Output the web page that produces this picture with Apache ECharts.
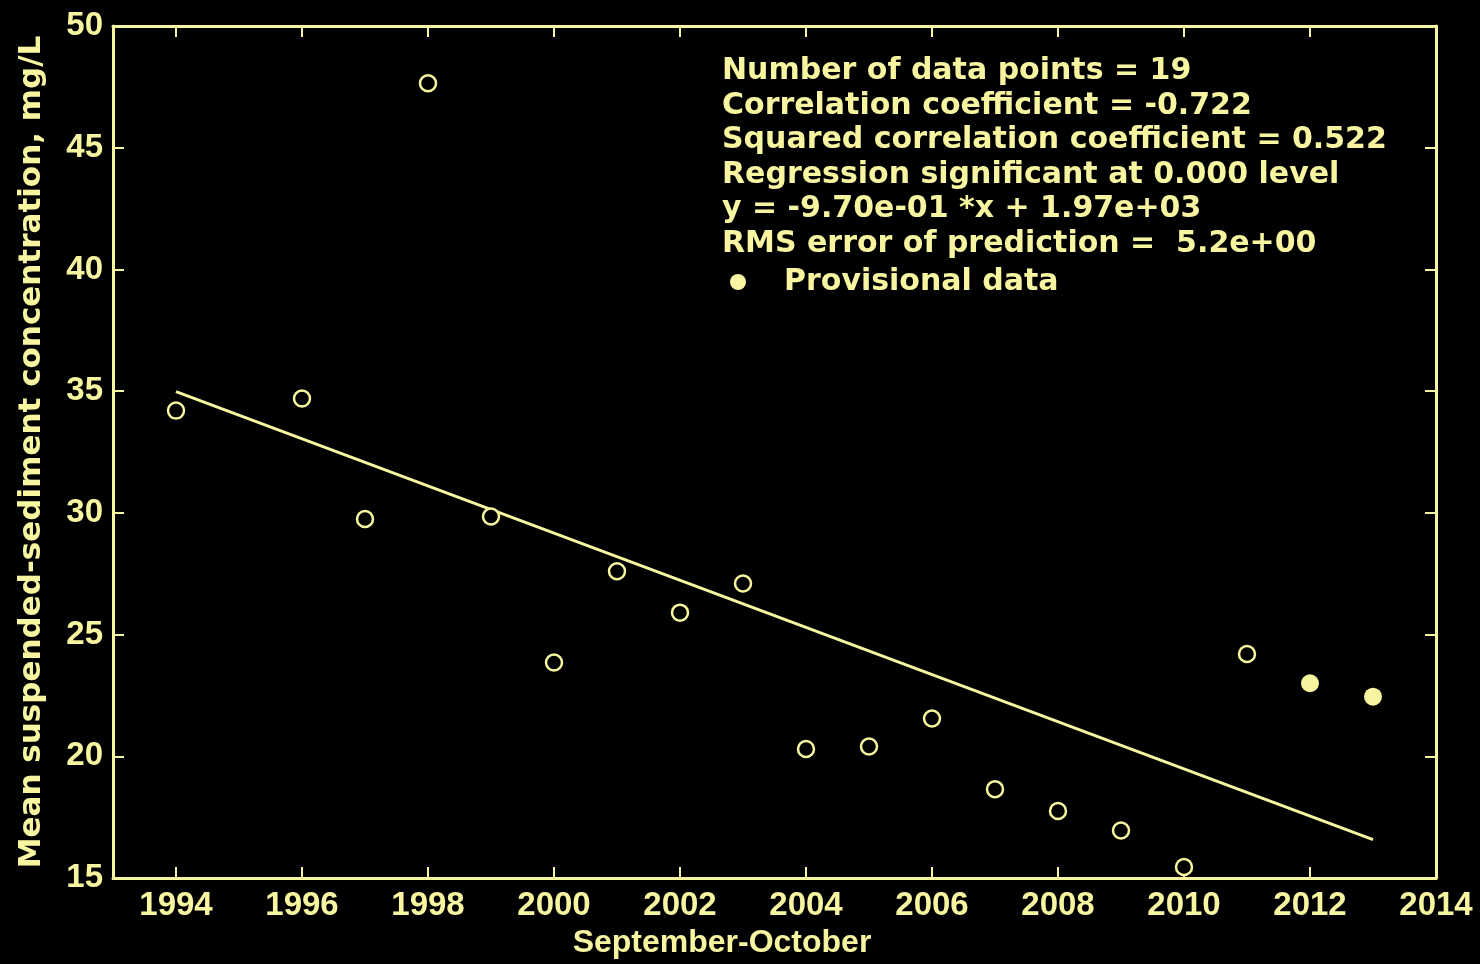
<!DOCTYPE html>
<html><head><meta charset="utf-8">
<script src="https://cdn.jsdelivr.net/npm/echarts@6/dist/echarts.min.js"></script>
<style>html,body{margin:0;padding:0;background:#000;}#c{width:1480px;height:964px;}</style>
</head><body><div id="c"></div>
<script>
// ---- data ----
const years = [1994,1996,1997,1998,1999,2000,2001,2002,2003,2004,2005,2006,2007,2008,2009,2010,2011];
const values = [34.2,34.7,29.75,47.65,29.85,23.85,27.6,25.9,27.1,20.3,20.4,21.55,18.65,17.75,16.95,15.45,24.2];
const provYears = [2012,2013];
const provValues = [23.0,22.45];
const regYears = [1994,2013];
const regValues = [34.98,16.58];
const xTicks = [1994,1996,1998,2000,2002,2004,2006,2008,2010,2012,2014];
const yTicks = [15,20,25,30,35,40,45,50];
const statLines = [
  'Number of data points = 19',
  'Correlation coefficient = -0.722',
  'Squared correlation coefficient = 0.522',
  'Regression significant at 0.000 level',
  'y = -9.70e-01 *x + 1.97e+03',
  'RMS error of prediction =  5.2e+00'
];
const legendLabel = 'Provisional data';
const xTitle = 'September-October';
const yTitle = 'Mean suspended-sediment concentration, mg/L';

// ---- style ----
const C = '#f8f5a0';
const tickFont = {color: C, fontFamily: 'Liberation Sans', fontWeight: 'bold', fontSize: 33};
const axisCommon = {
  axisLine: {show: true, lineStyle: {color: C, width: 3}},
  splitLine: {show: false}
};

const chart = echarts.init(document.getElementById('c'), null, {renderer: 'canvas'});
chart.setOption({
  backgroundColor: '#000',
  animation: false,
  grid: {left: 113, right: 44, top: 26, bottom: 86, containLabel: false, outerBoundsMode: 'none'},
  xAxis: [
    Object.assign({}, axisCommon, {
      type: 'value', min: 1993, max: 2014, position: 'bottom',
      axisTick: {show: true, inside: true, length: 11, customValues: xTicks, lineStyle: {color: C, width: 2}},
      axisLabel: Object.assign({show: true, margin: 11, customValues: xTicks, formatter: v => String(v)}, tickFont),
      name: xTitle, nameLocation: 'middle', nameGap: 29,
      nameTextStyle: {color: C, fontFamily: 'Liberation Sans', fontWeight: 'bold', fontSize: 32, padding: [0, 105, 0, 0]}
    }),
    Object.assign({}, axisCommon, {
      type: 'value', min: 1993, max: 2014, position: 'top',
      axisTick: {show: true, inside: true, length: 11, customValues: xTicks, lineStyle: {color: C, width: 2}},
      axisLabel: {show: false}
    })
  ],
  yAxis: [
    Object.assign({}, axisCommon, {
      type: 'value', min: 15, max: 50, interval: 5, position: 'left',
      axisTick: {show: true, inside: true, length: 11, lineStyle: {color: C, width: 2}},
      axisLabel: Object.assign({show: true, margin: 10, customValues: yTicks, formatter: v => String(v)}, tickFont),
      name: yTitle, nameLocation: 'middle', nameGap: 66, nameRotate: 90,
      nameTextStyle: {color: C, fontFamily: 'DejaVu Sans', fontWeight: 'bold', fontSize: 31}
    }),
    Object.assign({}, axisCommon, {
      type: 'value', min: 15, max: 50, interval: 5, position: 'right',
      axisTick: {show: true, inside: true, length: 11, lineStyle: {color: C, width: 2}},
      axisLabel: {show: false}
    })
  ],
  legend: {
    show: true, data: [legendLabel], left: 725, top: 262, orient: 'vertical',
    icon: 'circle', itemWidth: 16, itemHeight: 16,
    itemStyle: {opacity: 1},
    textStyle: {color: C, fontFamily: 'DejaVu Sans', fontWeight: 'bold', fontSize: 30, padding: [0, 0, 0, 33]}
  },
  graphic: [{
    type: 'text', left: 722, top: 54, silent: true,
    style: {
      text: statLines.join('\n'), fill: C,
      font: 'bold 30px "DejaVu Sans"', lineHeight: 34.5
    }
  }],
  series: [
    {
      name: 'Regression', type: 'line', data: regYears.map((x, i) => [x, regValues[i]]),
      symbol: 'none', lineStyle: {color: C, width: 3}, z: 2
    },
    {
      name: 'Data', type: 'scatter', data: years.map((x, i) => [x, values[i]]),
      symbol: 'circle', symbolSize: 16,
      itemStyle: {color: '#000', borderColor: C, borderWidth: 2.5, opacity: 1}, z: 3
    },
    {
      name: legendLabel, type: 'scatter', data: provYears.map((x, i) => [x, provValues[i]]),
      symbol: 'circle', symbolSize: 18,
      itemStyle: {color: C, opacity: 1}, z: 3
    }
  ]
});
</script>
</body></html>
